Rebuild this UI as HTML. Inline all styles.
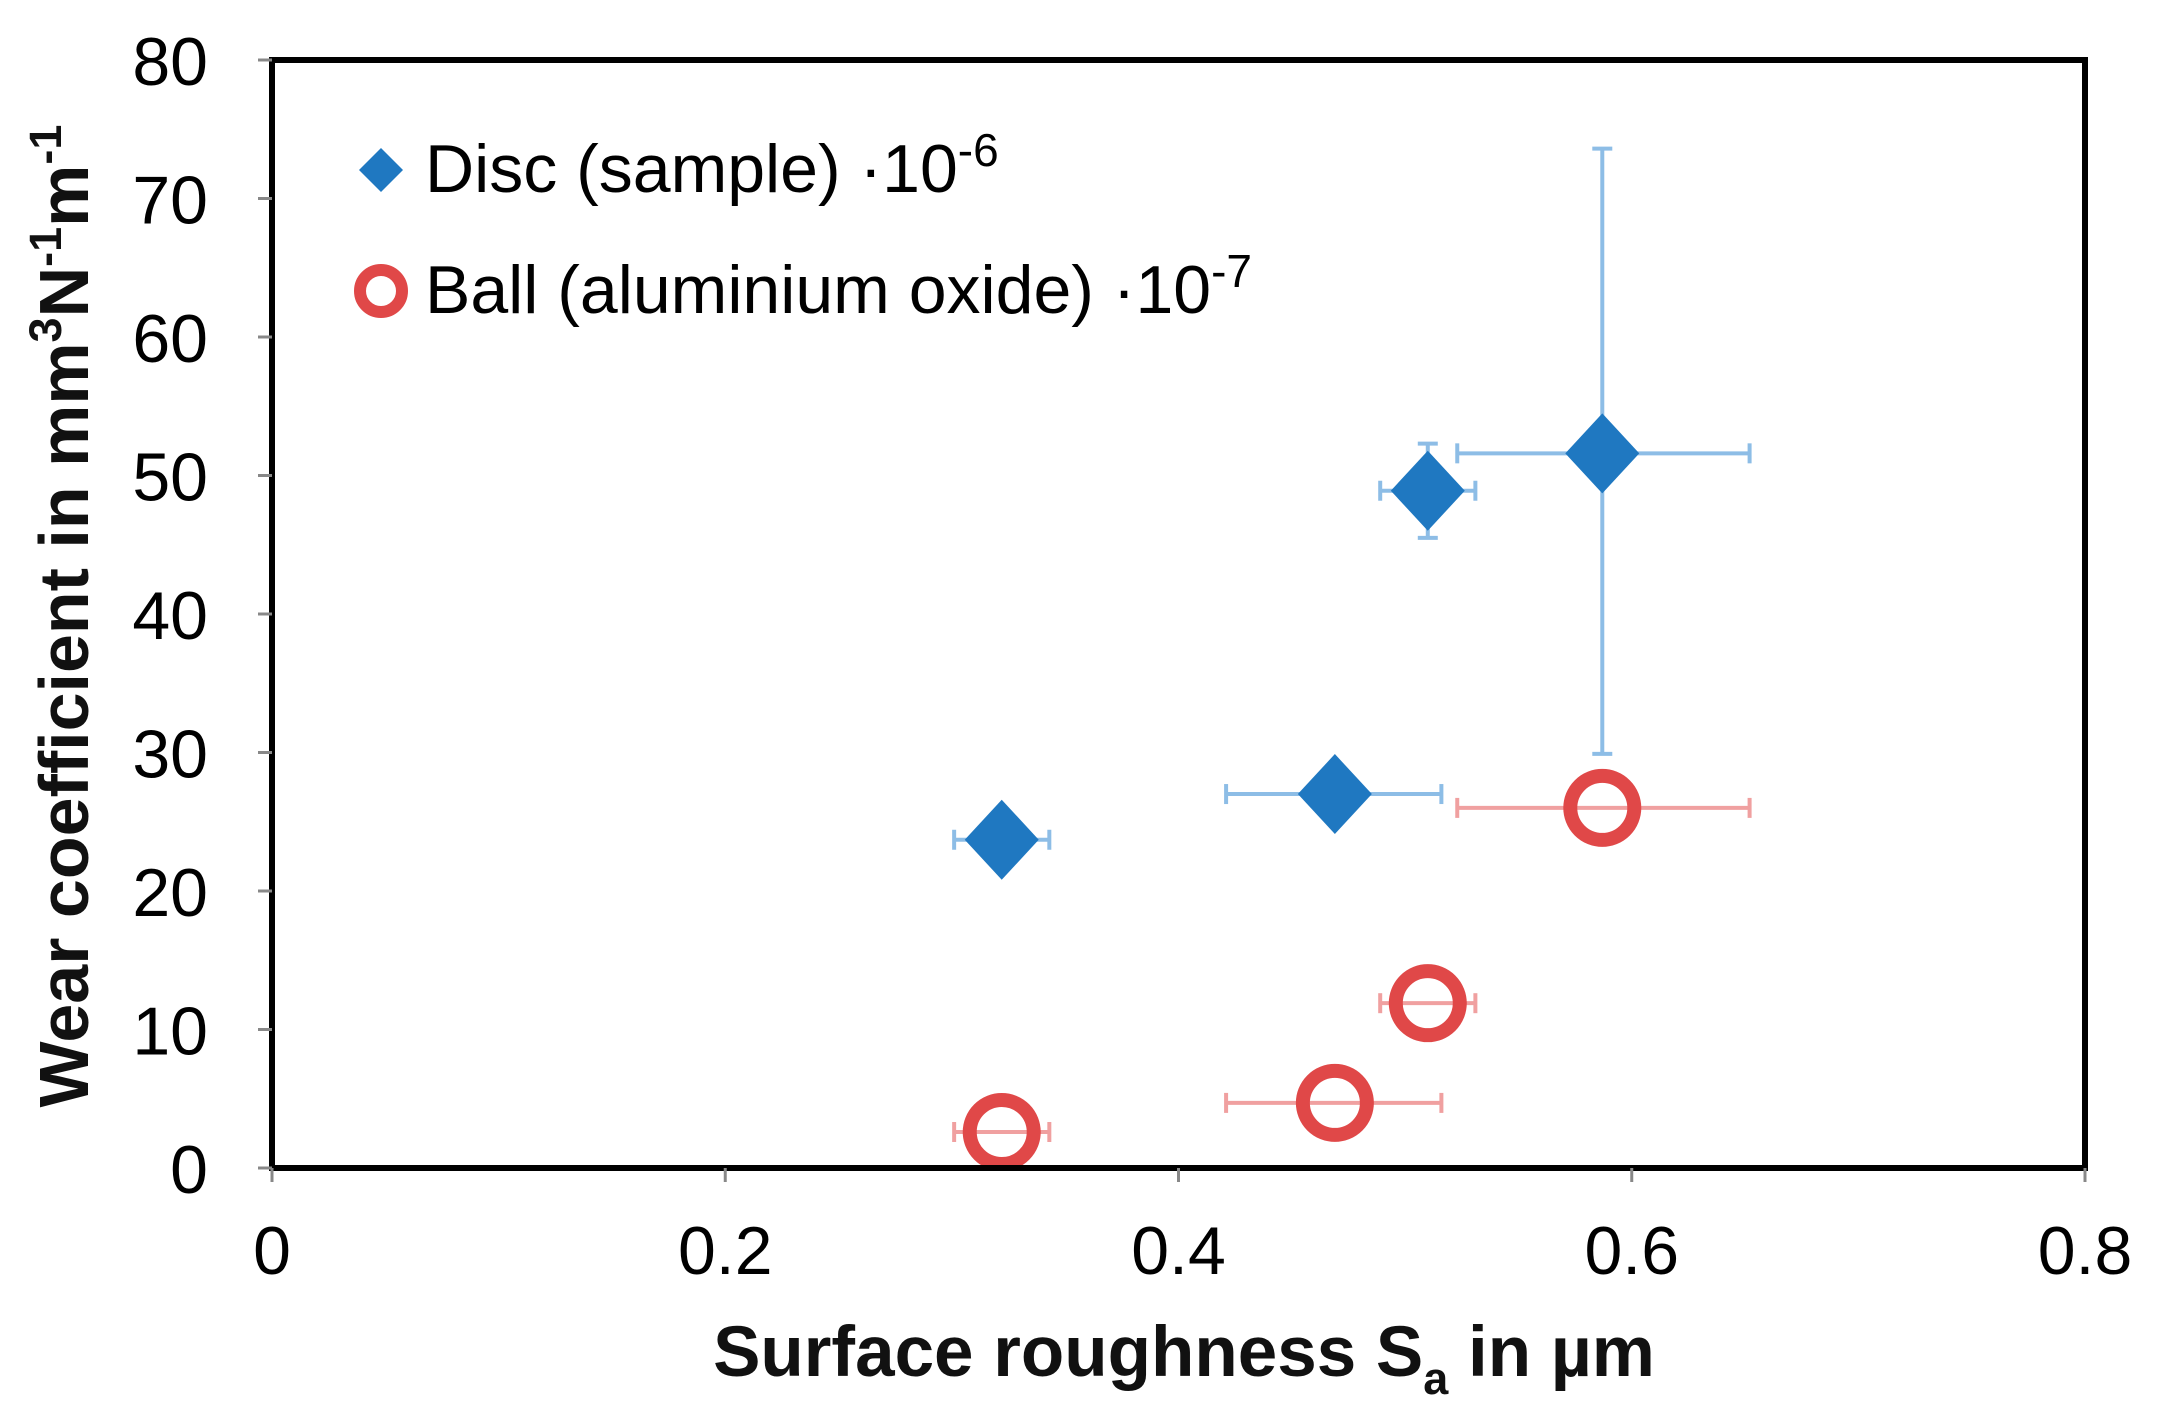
<!DOCTYPE html>
<html><head><meta charset="utf-8">
<style>
html,body{margin:0;padding:0;background:#fff;}
svg{display:block;font-family:"Liberation Sans",Arial,sans-serif;}
</style></head>
<body>
<svg id="chart" width="2160" height="1416" viewBox="0 0 2160 1416">
  <rect x="0" y="0" width="2160" height="1416" fill="#fff"/>
  <g id="marks"></g>
  <rect x="272" y="60" width="1813" height="1108" fill="none" stroke="#000" stroke-width="6"/>
  <g id="ticks"></g>
  <text x="0" y="0" transform="translate(88,616) rotate(-90)" text-anchor="middle" font-size="70" font-weight="bold" fill="#111">Wear coefficient in mm<tspan dy="-27" font-size="45">3</tspan><tspan dy="27">N</tspan><tspan dy="-27" font-size="45">-1</tspan><tspan dy="27">m</tspan><tspan dy="-27" font-size="45">-1</tspan></text>
  <text x="1184" y="1376" text-anchor="middle" font-size="71" font-weight="bold" fill="#111">Surface roughness S<tspan dy="18" font-size="45">a</tspan><tspan dy="-18"> in µm</tspan></text>
  <g>
    <polygon points="381,148 403,170 381,192 359,170" fill="#1f78c1"/>
    <text x="425" y="192" font-size="68" fill="#000">Disc (sample)  ·10<tspan dy="-26" font-size="46">-6</tspan></text>
    <circle cx="381" cy="291" r="21" fill="none" stroke="#e04848" stroke-width="12"/>
    <text x="425" y="313" font-size="68" fill="#000">Ball (aluminium oxide)  ·10<tspan dy="-26" font-size="46">-7</tspan></text>
  </g>
</svg>
<script>
const xTicks = [0, 0.2, 0.4, 0.6, 0.8];
const xTickLabels = ["0", "0.2", "0.4", "0.6", "0.8"];
const yTicks = [0, 10, 20, 30, 40, 50, 60, 70, 80];
const yTickLabels = ["0", "10", "20", "30", "40", "50", "60", "70", "80"];
const discX = [0.322, 0.469, 0.510, 0.587];
const discY = [23.7, 27.0, 48.9, 51.6];
const discXLo = [0.301, 0.421, 0.489, 0.523];
const discXHi = [0.343, 0.516, 0.531, 0.652];
const discYLo = [23.7, 27.0, 45.5, 29.9];
const discYHi = [23.7, 27.0, 52.3, 73.6];
const ballX = [0.322, 0.469, 0.510, 0.587];
const ballY = [2.6, 4.7, 11.9, 26.0];
const ballXLo = [0.301, 0.421, 0.489, 0.523];
const ballXHi = [0.343, 0.516, 0.531, 0.652];

const X0 = 272, X1 = 2085, Y0 = 1168, Y1 = 60;
function xs(v){ return X0 + (v - 0) / 0.8 * (X1 - X0); }
function ys(v){ return Y0 - (v - 0) / 80 * (Y0 - Y1); }
const NS = "http://www.w3.org/2000/svg";
function mk(tag, attrs, parent){
  const e = document.createElementNS(NS, tag);
  for (const k in attrs) e.setAttribute(k, attrs[k]);
  parent.appendChild(e);
  return e;
}
const ticks = document.getElementById('ticks');
const marks = document.getElementById('marks');

xTicks.forEach((v, i) => {
  const t = mk('line', {x1: xs(v), x2: xs(v), y1: Y0, y2: Y0 + 14, stroke: '#888', 'stroke-width': 3}, ticks);
  
  
  const l = mk('text', {x: xs(v), y: Y0 + 106, 'text-anchor': 'middle', 'font-size': 68, fill: '#000'}, ticks);
  l.textContent = xTickLabels[i];
  
  
});
yTicks.forEach((v, i) => {
  const t = mk('line', {x1: X0 - 14, x2: X0, y1: ys(v), y2: ys(v), stroke: '#888', 'stroke-width': 3}, ticks);
  
  
  const l = mk('text', {x: X0 - 64, y: ys(v) + 25, 'text-anchor': 'end', 'font-size': 68, fill: '#000'}, ticks);
  l.textContent = yTickLabels[i];
  
  
});

function hbar(lo, hi, y, color, name){
  const g = mk('g', {stroke: color, 'stroke-width': 4}, marks);
  
  
  mk('line', {x1: xs(lo), x2: xs(hi), y1: y, y2: y}, g);
  mk('line', {x1: xs(lo), x2: xs(lo), y1: y - 10, y2: y + 10}, g);
  mk('line', {x1: xs(hi), x2: xs(hi), y1: y - 10, y2: y + 10}, g);
}
function vbar(lo, hi, x, color, name){
  const g = mk('g', {stroke: color, 'stroke-width': 4}, marks);
  
  
  mk('line', {x1: x, x2: x, y1: ys(lo), y2: ys(hi)}, g);
  mk('line', {x1: x - 10, x2: x + 10, y1: ys(lo), y2: ys(lo)}, g);
  mk('line', {x1: x - 10, x2: x + 10, y1: ys(hi), y2: ys(hi)}, g);
}
ballX.forEach((v, i) => {
  hbar(ballXLo[i], ballXHi[i], ys(ballY[i]), '#f0a0a0', 'ball-x-error-bar');
  const c = mk('circle', {cx: xs(v), cy: ys(ballY[i]), r: 32, fill: 'none', stroke: '#e04848', 'stroke-width': 14}, marks);
  
  
});
discX.forEach((v, i) => {
  const cx = xs(v), cy = ys(discY[i]);
  hbar(discXLo[i], discXHi[i], cy, '#8dbde6', 'disc-x-error-bar');
  if (discYHi[i] !== discYLo[i]) vbar(discYLo[i], discYHi[i], cx, '#8dbde6', 'disc-y-error-bar');
  const d = mk('polygon', {points: `${cx},${cy-40} ${cx+37},${cy} ${cx},${cy+40} ${cx-37},${cy}`, fill: '#1f78c1'}, marks);
  
  
});
</script>
</body></html>
